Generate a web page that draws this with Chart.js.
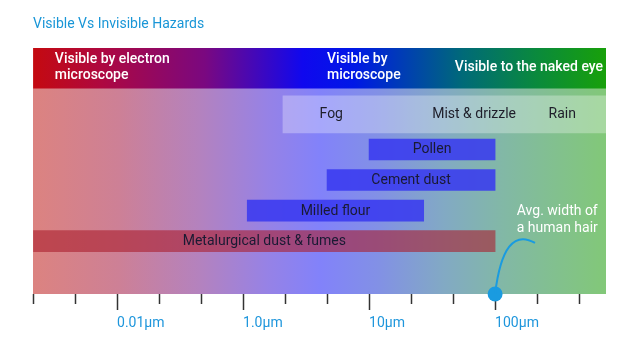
<!DOCTYPE html>
<html>
<head>
<meta charset="utf-8">
<script src="https://cdn.jsdelivr.net/npm/chart.js@4"></script>
<style>
  html, body { margin: 0; padding: 0; background: #fff; }
  #wrap { width: 640px; height: 360px; }
</style>
</head>
<body>
<div id="wrap"><canvas id="hazardChart"></canvas></div>
<script>
// --- particle size scale: one unit per tick mark (schematic, not to scale) ---
const tickValues = [0, 1, 2, 3, 4, 5, 6, 7, 8, 9, 10, 11, 12, 13];
const tickLabels = ['', '', '0.01µm', '', '', '1.0µm', '', '', '10µm', '', '', '100µm', '', ''];
const axisMax = 13.64;

// hazards and the size range each one covers
const hazards = ['Pollen', 'Cement dust', 'Milled flour', 'Metalurgical dust & fumes'];
const hazardStart = [8, 7, 5.1, 0];
const hazardEnd = [11, 11, 9.3, 11];

// weather band
const weatherRange = [5.95, 13.64];
const weatherLabels = ['Fog', 'Mist & drizzle', 'Rain'];
const weatherAt = [7.1, 10.5, 12.6];

// what can see it
const visibility = [['Visible by electron', 'microscope'], ['Visible by', 'microscope'], ['Visible to the naked eye']];
const visibilityAt = [0.52, 7.0, 13.57];

const hairWidth = 11; // 100µm
const hairNote = ['Avg. width of', 'a human hair'];

// rows on the vertical axis (layout only)
const rowHeader = -1.66;
const rowWeather = -0.15;
const yMin = -2.32, yMax = 5.73;

Chart.defaults.font.family = 'Roboto';

function gradientX(chart, stops) {
    const a = chart.chartArea;
    const g = chart.ctx.createLinearGradient(a.left, 0, a.right, 0);
    stops.forEach(s => g.addColorStop(s[0], s[1]));
    return g;
}

const headerStops = [
    [0, '#c40a10'], [0.12, '#ae0840'], [0.3, '#7a0880'], [0.47, '#1008ee'],
    [0.56, '#0018e6'], [0.75, '#006a78'], [0.88, '#0a8a3c'], [1, '#18a00a']
];
const backStops = [
    [0, '#dc8380'], [0.15, '#cd8096'], [0.29, '#b482be'], [0.41, '#9682e6'],
    [0.5, '#8282fa'], [0.6, '#8290e6'], [0.72, '#82aac3'], [0.82, '#82b8a6'], [1, '#82c878']
];

// background behind everything in the plot area
const backgroundPlugin = {
    id: 'backdrop',
    beforeDatasetsDraw(chart) {
        const a = chart.chartArea;
        const ctx = chart.ctx;
        ctx.save();
        ctx.fillStyle = gradientX(chart, backStops);
        ctx.fillRect(a.left, a.top, a.right - a.left, a.bottom - a.top);
        ctx.restore();
    }
};

// texts, minor ticks and the hair annotation
const textPlugin = {
    id: 'texts',
    afterDatasetsDraw(chart) {
        const ctx = chart.ctx;
        const xs = chart.scales.x, ys = chart.scales.y;
        ctx.save();
        ctx.textBaseline = 'middle';

        // header
        ctx.fillStyle = '#ffffff';
        ctx.font = '500 14px Roboto';
        const hy = ys.getPixelForValue(rowHeader) - 0.5;
        visibility.forEach((lines, i) => {
            const last = i === visibility.length - 1;
            ctx.textAlign = last ? 'right' : 'left';
            lines.forEach((t, j) => {
                const y = hy + (j - (lines.length - 1) / 2) * 16.5;
                ctx.fillText(t, xs.getPixelForValue(visibilityAt[i]), y);
            });
        });

        // weather band
        ctx.fillStyle = '#1e1e2a';
        ctx.font = '14px Roboto';
        ctx.textAlign = 'center';
        const wy = ys.getPixelForValue(rowWeather);
        weatherLabels.forEach((t, i) => ctx.fillText(t, xs.getPixelForValue(weatherAt[i]), wy));

        // hazard bars
        ctx.fillStyle = '#1a1a33';
        const meta = chart.getDatasetMeta(2);
        meta.data.forEach((bar, i) => {
            const c = bar.getCenterPoint();
            ctx.fillText(hazards[i], c.x, c.y + 0.5);
        });

        // hair annotation
        const dot = chart.getDatasetMeta(3).data[0];
        ctx.strokeStyle = '#1a9be0';
        ctx.lineWidth = 2;
        ctx.beginPath();
        ctx.moveTo(dot.x, dot.y);
        ctx.quadraticCurveTo(xs.getPixelForValue(11.2), ys.getPixelForValue(3.47),
            xs.getPixelForValue(11.95), ys.getPixelForValue(4.06));
        ctx.stroke();
        ctx.fillStyle = '#ffffff';
        ctx.font = '14px Roboto';
        hairNote.forEach((t, j) => ctx.fillText(t, xs.getPixelForValue(12.48), ys.getPixelForValue(3.0) + 1 + j * 17));
        ctx.restore();
    },
    afterDraw(chart) {
        const ctx = chart.ctx;
        const xs = chart.scales.x;
        const bottom = chart.chartArea.bottom;
        ctx.save();
        ctx.strokeStyle = '#333333';
        ctx.lineWidth = 1.5;
        xs.ticks.forEach((t, i) => {
            if (tickLabels[i]) return;
            const x = Math.round(xs.getPixelForTick(i)) + 0.5;
            ctx.beginPath();
            ctx.moveTo(x, bottom);
            ctx.lineTo(x, bottom + 10);
            ctx.stroke();
        });
        ctx.restore();
    }
};

const ctx = document.getElementById('hazardChart').getContext('2d');
new Chart(ctx, {
    type: 'bar',
    data: {
        datasets: [
            {
                label: 'Visibility',
                indexAxis: 'y',
                data: [{ x: [0, axisMax], y: rowHeader }],
                barThickness: 40,
                backgroundColor: (c) => c.chart.chartArea ? gradientX(c.chart, headerStops) : '#7a0880',
                order: 4
            },
            {
                label: 'Weather',
                indexAxis: 'y',
                data: [{ x: weatherRange, y: rowWeather }],
                barThickness: 37,
                backgroundColor: 'rgba(255,255,255,0.3)',
                order: 3
            },
            {
                label: 'Hazards',
                indexAxis: 'y',
                data: hazards.map((h, i) => ({ x: [hazardStart[i], hazardEnd[i]], y: i + 1 })),
                barThickness: 21,
                backgroundColor: ['rgba(55,55,240,0.85)', 'rgba(55,55,240,0.85)', 'rgba(55,55,240,0.85)', 'rgba(170,30,45,0.6)'],
                order: 2
            },
            {
                type: 'scatter',
                label: 'Human hair',
                data: [{ x: hairWidth, y: yMax }],
                pointRadius: 7.5,
                pointHoverRadius: 7.5,
                backgroundColor: '#1a9be0',
                borderWidth: 0,
                clip: false,
                order: 1
            }
        ]
    },
    options: {
        responsive: true,
        maintainAspectRatio: false,
        animation: false,
        layout: { padding: { left: 33, right: 34, top: 0, bottom: 24 } },
        datasets: { bar: { grouped: false, borderWidth: 0 } },
        scales: {
            x: {
                type: 'linear',
                min: 0,
                max: axisMax,
                offset: false,
                afterBuildTicks: (scale) => { scale.ticks = tickValues.map(v => ({ value: v })); },
                border: { display: false },
                grid: {
                    offset: false,
                    drawOnChartArea: false,
                    tickLength: 16,
                    tickWidth: 1.5,
                    tickColor: (c) => tickLabels[c.index] ? '#333333' : 'rgba(0,0,0,0)'
                },
                ticks: {
                    autoSkip: false,
                    maxRotation: 0,
                    align: 'start',
                    padding: 4.6,
                    color: '#1e96dc',
                    font: { size: 14 },
                    callback: (v, i) => tickLabels[i]
                }
            },
            y: {
                type: 'linear',
                min: yMin,
                max: yMax,
                offset: false,
                reverse: true,
                display: false
            }
        },
        plugins: {
            legend: { display: false },
            tooltip: { enabled: false },
            title: {
                display: true,
                text: 'Visible Vs Invisible Hazards',
                align: 'start',
                color: '#1996d7',
                font: { size: 14, weight: 'normal' },
                padding: { top: 15.6, bottom: 15.6 }
            }
        }
    },
    plugins: [backgroundPlugin, textPlugin]
});
</script>
</body>
</html>
